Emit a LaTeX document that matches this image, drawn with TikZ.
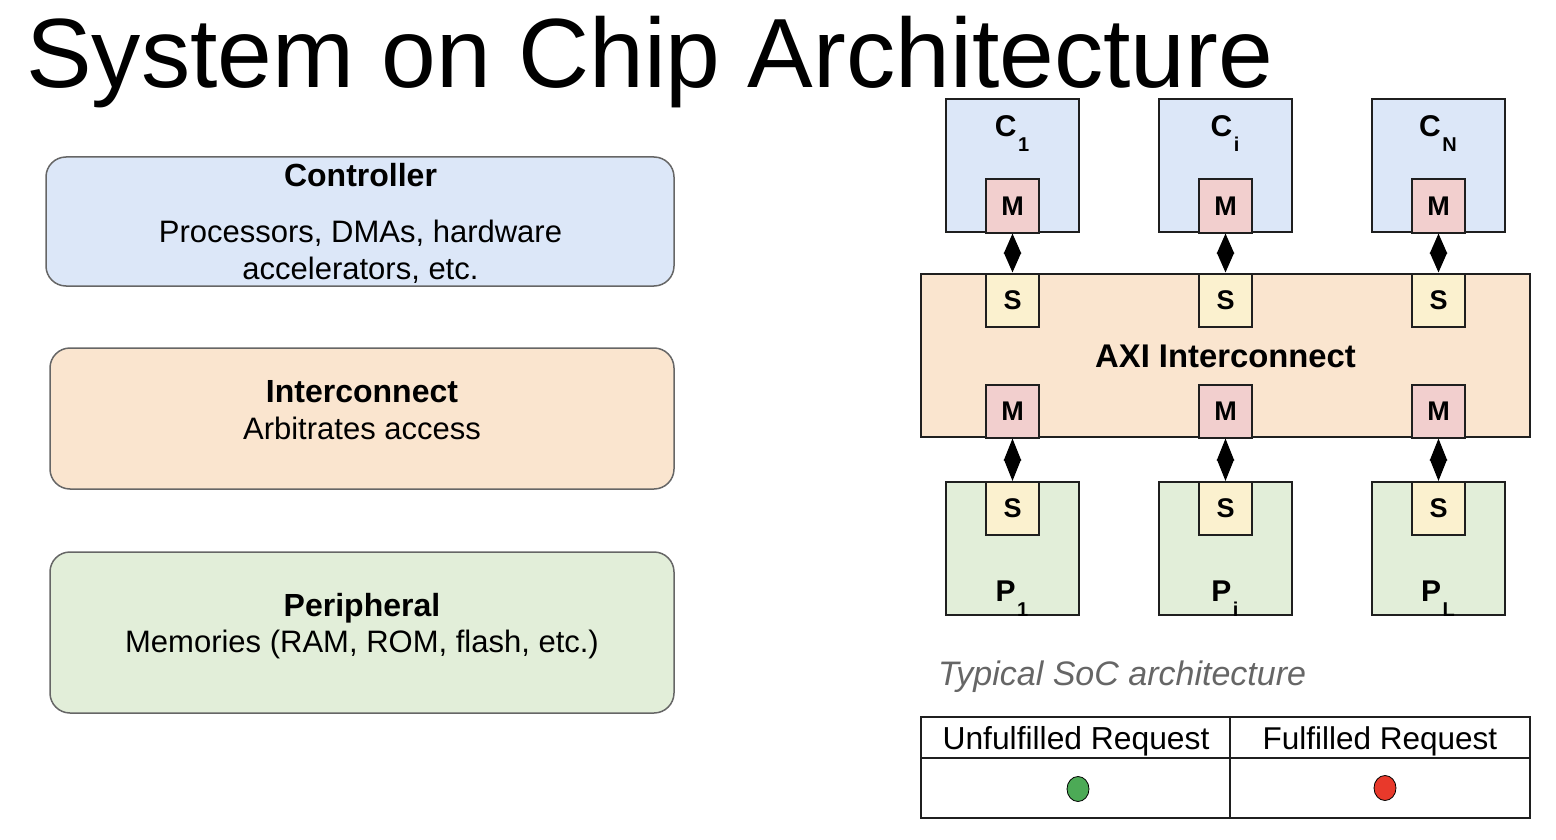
\documentclass[tikz,border=0pt]{standalone}
\usepackage{fontspec}
\setmainfont{Liberation Sans}
\usetikzlibrary{arrows.meta,shapes.geometric}

\newcommand{\fsz}[1]{\fontsize{#1pt}{#1pt}\selectfont}
% letter with a lowered index, as used in the block labels
\newcommand{\sublbl}[2]{#1\kern1.5pt\raisebox{-15pt}{\fsz{20}#2}}

\definecolor{ctrlfill}{HTML}{DCE7F8}
\definecolor{icfill}{HTML}{FAE5CF}
\definecolor{perfill}{HTML}{E2EED9}
\definecolor{mfill}{HTML}{F2CFCE}
\definecolor{sfill}{HTML}{FBF1CF}
\definecolor{edgegray}{HTML}{666666}
\definecolor{capgray}{HTML}{666666}
\definecolor{okgreen}{HTML}{4CAA56}
\definecolor{badred}{HTML}{E8392B}

\begin{document}
\begin{tikzpicture}[x=1pt,y=-1pt,
  lbox/.style={draw=edgegray, line width=1.5pt, rounded corners=20pt, inner sep=0},
  blk/.style={draw=black!88, line width=2pt, inner sep=0},
  bigbox/.style={blk, minimum width=133, minimum height=133},
  port/.style={blk, minimum width=53, minimum height=53, font=\fsz{27}\bfseries},
  mport/.style={port, fill=mfill},
  sport/.style={port, fill=sfill},
  lbl/.style={anchor=base, inner sep=0, font=\fsz{31}},
  hdr/.style={anchor=base, inner sep=0, font=\fsz{32}\bfseries},
  blab/.style={anchor=base, inner sep=0, font=\fsz{30}\bfseries},
  biarrow/.style={line width=2pt, arrows={Triangle[length=#1,width=17pt]-Triangle[length=#1,width=17pt]}},
  biarrow/.default=20pt,
  cell/.style={draw=black!88, line width=2pt, inner sep=0},
  dot/.style={ellipse, draw=black, line width=0.8pt, minimum width=22, minimum height=25, inner sep=0}
]
\useasboundingbox (0,0) rectangle (1556,840);

% title
\node[anchor=base west, inner sep=0, font=\fsz{98.4}] (title) at (26,88) {System on Chip Architecture};

% left column: the three component classes
\node[lbox, fill=ctrlfill, minimum width=628, minimum height=129] (ctrl) at (360,221.5) {};
\node[hdr] (ctrlh) at (360.5,186) {Controller};
\node[lbl] (ctrl1) at (360.5,242) {Processors, DMAs, hardware};
\node[lbl] (ctrl2) at (360.5,279) {accelerators, etc.};

\node[lbox, fill=icfill, minimum width=624, minimum height=141] (ic) at (362,418.5) {};
\node[hdr] (ich) at (362,402) {Interconnect};
\node[lbl] (ic1) at (362,439) {Arbitrates access};

\node[lbox, fill=perfill, minimum width=624, minimum height=161] (per) at (362,632.5) {};
\node[hdr] (perh) at (362,616) {Peripheral};
\node[lbl] (per1) at (362,652) {Memories (RAM, ROM, flash, etc.)};

% right: controllers on top
\node[bigbox, fill=ctrlfill] (c1) at (1012.5,165.5) {};
\node[bigbox, fill=ctrlfill] (ci) at (1225.5,165.5) {};
\node[bigbox, fill=ctrlfill] (cn) at (1438.5,165.5) {};
\node[blab] at (1012,137) {\sublbl{C}{1}};
\node[blab] at (1225,137) {\sublbl{C}{i}};
\node[blab] at (1438,137) {\sublbl{C}{N}};
\node[mport] (cm1) at (1012.5,206) {M};
\node[mport] (cmi) at (1225.5,206) {M};
\node[mport] (cmn) at (1438.5,206) {M};

% interconnect
\node[blk, fill=icfill, minimum width=609, minimum height=163] (axi) at (1225.5,355.5) {};
\node[hdr, font=\fsz{32.8}\bfseries] (axil) at (1225.5,367) {AXI Interconnect};
\node[sport] (as1) at (1012.5,300) {S};
\node[sport] (asi) at (1225.5,300) {S};
\node[sport] (asn) at (1438.5,300) {S};
\node[mport] (am1) at (1012.5,411) {M};
\node[mport] (ami) at (1225.5,411) {M};
\node[mport] (amn) at (1438.5,411) {M};

% peripherals at the bottom
\node[bigbox, fill=perfill] (p1) at (1012.5,548.5) {};
\node[bigbox, fill=perfill] (pi) at (1225.5,548.5) {};
\node[bigbox, fill=perfill] (pl) at (1438.5,548.5) {};
\node[sport] (ps1) at (1012.5,508.5) {S};
\node[sport] (psi) at (1225.5,508.5) {S};
\node[sport] (psl) at (1438.5,508.5) {S};
\node[blab] at (1012,601) {\sublbl{P}{1}};
\node[blab] at (1225,601) {\sublbl{P}{i}};
\node[blab] at (1438,601) {\sublbl{P}{L}};

% bus links
\draw[biarrow] (cm1.south) -- (as1.north);
\draw[biarrow] (cmi.south) -- (asi.north);
\draw[biarrow] (cmn.south) -- (asn.north);
\draw[biarrow=22pt] (am1.south) -- (ps1.north);
\draw[biarrow=22pt] (ami.south) -- (psi.north);
\draw[biarrow=22pt] (amn.south) -- (psl.north);

% caption
\node[anchor=base west, inner sep=0, font=\fsz{34}\itshape, text=capgray] (cap) at (938,685) {Typical SoC architecture};

% legend table
\node[cell, minimum width=309, minimum height=41] (h1) at (1075.5,737.5) {};
\node[cell, minimum width=300, minimum height=41] (h2) at (1380,737.5) {};
\node[cell, minimum width=309, minimum height=60] (b1) at (1075.5,788) {};
\node[cell, minimum width=300, minimum height=60] (b2) at (1380,788) {};
\node[lbl, font=\fsz{31.8}] (h1t) at (1076,749) {Unfulfilled Request};
\node[lbl, font=\fsz{31.5}] (h2t) at (1380,749) {Fulfilled Request};
\node[dot, fill=okgreen] (g) at (1078,789) {};
\node[dot, fill=badred] (r) at (1385,788) {};
\end{tikzpicture}
\end{document}
